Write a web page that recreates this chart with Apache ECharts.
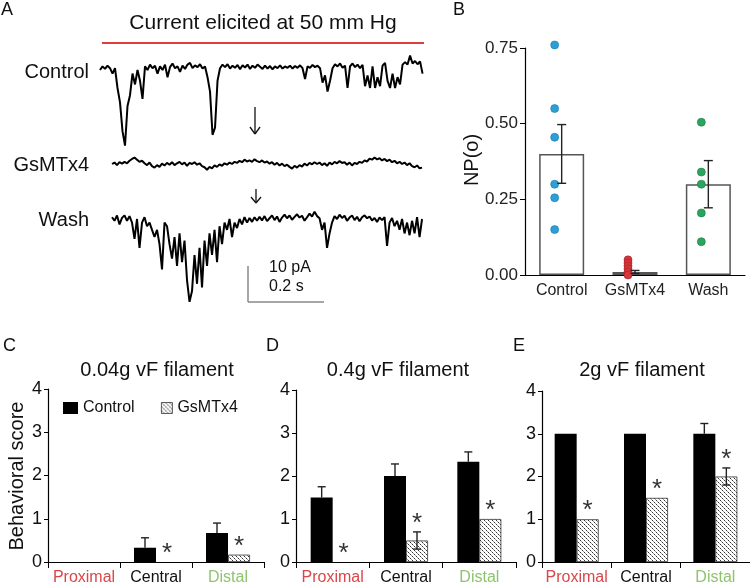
<!DOCTYPE html>
<html><head><meta charset="utf-8">
<script src="https://cdn.jsdelivr.net/npm/echarts@6/dist/echarts.min.js"></script>
<style>html,body{margin:0;padding:0;background:#fff}#c{width:750px;height:586px}</style>
</head><body><div id="c"></div>
<script>
const FONT = '"Liberation Sans", Arial, Helvetica, sans-serif';

// ---------- Panel A: current traces (pA relative to baseline) ----------
const SAMPLE_DT = 0.00658;          // s between samples
const controlStart = 0;             // s
const gsmtxStart = 0.0316;          // s
const washStart = 0.0316;           // s
const controlTrace = [0,1,0.3,1.2,0.5,-1,0.5,-5,-9,-17,
-21,-10,-7,-1,-4,0,-3,-8,1,0,
1.5,0.5,1.2,-1,1,0,1.5,-2,0.8,1.8,
0.5,1,-0.5,1.2,0.3,1.5,2,0.5,1.3,0.8,
1.6,0.4,1,-2,-6,-18,-16,-3,0.5,1.5,
0.8,1.6,0.4,1.2,0.6,1.4,0.2,1.3,0.7,1.5,
0.3,1.2,0.6,1.5,0.9,0.3,1.2,0.4,1.1,0.2,
1,0.5,1.3,0.4,1,0.6,1.2,0.4,1.1,0.6,
1.3,0.5,-2.5,1,0.6,1.4,0.8,1.2,0.5,-3.5,
-1.5,-6,-3,0.5,1.6,1,1.8,0.6,1.2,-5,
1,1.8,0.8,1.5,0.5,1.4,-4.5,-1.5,-5,1,
-5,-2,-4.5,1.2,2,-3,-5,-1,-5,-2,
-4,1.5,2.2,1.5,4,1.8,2.5,1.6,2.4,-1];
const gsmtxTrace = [0,0.4,-0.3,0.5,0.1,0.6,0.2,0.9,1.4,1.8,
1.2,0.6,0.9,0.2,-0.3,0.4,-0.6,-1.0,-0.3,-0.8,
0.1,-0.4,0.3,-0.2,0.5,-0.3,0.2,0.6,-0.1,0.4,
-0.5,0.3,0.0,0.5,-0.2,0.2,-0.6,-0.9,-1.6,-0.8,
-1.2,-0.4,-0.8,-0.1,-0.5,0.2,-0.2,0.4,0.0,0.6,
0.3,0.9,0.5,1.2,0.7,1.0,0.6,1.3,0.8,0.5,
1.0,0.4,0.7,0.1,0.5,-0.2,0.3,-0.4,0.1,-0.6,
-0.2,-0.8,-1.3,-0.5,-1.0,-0.3,-0.7,0.1,-0.4,0.3,
-0.1,0.5,0.0,0.4,-0.3,0.2,-0.5,0.4,-0.1,0.6,
0.2,0.8,0.3,0.5,-0.2,0.4,-0.4,0.3,0.0,0.6,
0.3,1.0,0.7,1.5,1.2,1.8,1.3,1.6,1.0,1.4,
0.8,1.2,0.5,0.9,0.2,0.6,0.0,0.4,-0.3,0.2,
-0.6,-0.9,-0.4,-1.2,-1.0];
const washTrace = [0.5,-0.5,1,-1.5,0.3,1,-0.5,0.8,-1,-5.5,
0,-8,-1,0.5,-2,-1,-3,-5,-3,-7,
-14,-1,-2,-7,-11,-5,-13,-4,-12,-6,
-17,-23,-20,-10,-18,-8,-19,-6,-13,-4,
-10,-3,-12,-2,-7,-1,-3,0,-5,-1,
-2.5,0,-1.5,0.5,-1,0.3,-0.8,0.5,-0.5,0.6,
-0.4,0.8,-0.6,0.2,1,-0.3,0.7,-0.8,0.4,1.2,
0.2,1,-0.2,0.6,1.3,0.4,0.9,-0.5,0.5,1.5,
0.7,2,0.8,0.2,-3,-1,-8,-4,-1,0.8,
0,1.2,0.3,0.9,-0.5,0.4,1,-0.3,0.6,-0.6,
0.5,1,0.2,0.7,-0.4,0.3,-0.8,0.4,-0.3,0.5,
-7.5,-1,0.3,-2,-0.5,-3,0,-4,-1,-4.5,
-0.5,-4,0.5,-5,0];

// ---------- Panel B ----------
const bCategories = ['Control', 'GsMTx4', 'Wash'];
const bMeans = [0.40, 0.01, 0.30];
const bSem = [0.097, 0.005, 0.078];
const bControlPts = [0.76, 0.55, 0.455, 0.30, 0.255, 0.15];
const bGsmtxPts = [0.05, 0.04, 0.03, 0.02, 0.01, 0.0];
const bWashPts = [0.505, 0.34, 0.30, 0.205, 0.11];
const bTickMax = 0.75, bTickStep = 0.25;

// ---------- Panels C, D, E ----------
const locations = ['Proximal', 'Central', 'Distal'];
const scoreMax = 4, scoreStep = 1;
const cTitle = '0.04g vF filament';
const cControl = [0, 0.33, 0.67];
const cControlErr = [null, 0.23, 0.23];
const cGsmtx = [0, 0, 0.17];
const cGsmtxErr = [null, null, null];
const cSig = [false, true, true];

const dTitle = '0.4g vF filament';
const dControl = [1.5, 2.0, 2.33];
const dControlErr = [0.25, 0.28, 0.23];
const dGsmtx = [0, 0.5, 1.0];
const dGsmtxErr = [null, 0.2, null];
const dSig = [true, true, true];

const eTitle = '2g vF filament';
const eControl = [3, 3, 3];
const eControlErr = [null, null, 0.24];
const eGsmtx = [1, 1.5, 2];
const eGsmtxErr = [null, null, 0.2];
const eSig = [true, true, true];

// ---------- helpers ----------
function makeHatch() {
  const cv = document.createElement('canvas');
  cv.width = 4; cv.height = 4;
  const ctx = cv.getContext('2d');
  ctx.fillStyle = '#fff'; ctx.fillRect(0, 0, 4, 4);
  for (let i = 0; i < 4; i++) {
    ctx.fillStyle = (i % 2 === 0) ? '#333' : '#999';
    ctx.fillRect(i, i, 1, 1);
  }
  return cv;
}
const hatch = { image: makeHatch(), repeat: 'repeat' };

function errRender(offset, twoSided, cap, color) {
  return function (params, api) {
    const c = api.value(0), m = api.value(1), e = api.value(2);
    const top = api.coord([c, m + e]);
    const base = api.coord([c, twoSided ? m - e : m]);
    const x = top[0] + offset;
    const st = { stroke: color, lineWidth: 1.4 };
    const ch = [
      { type: 'line', shape: { x1: x, y1: top[1], x2: x, y2: base[1] }, style: st },
      { type: 'line', shape: { x1: x - cap / 2, y1: top[1], x2: x + cap / 2, y2: top[1] }, style: st }
    ];
    if (twoSided) ch.push({ type: 'line', shape: { x1: x - cap / 2, y1: base[1], x2: x + cap / 2, y2: base[1] }, style: st });
    return { type: 'group', children: ch };
  };
}
function starRender(offset) {
  return function (params, api) {
    const p = api.coord([api.value(0), api.value(1)]);
    return { type: 'text', x: p[0] + offset, y: p[1] - 8,
      style: { text: '*', fill: '#333', font: '26px ' + FONT, align: 'center', verticalAlign: 'middle',
               textAlign: 'center', textVerticalAlign: 'middle' } };
  };
}

const BAR_W = 22;
const locData = [
  { value: 'Proximal', textStyle: { color: '#d9474b' } },
  'Central',
  { value: 'Distal', textStyle: { color: '#8fc46e' } }
];

const grids = [
  { left: 100, top: 55.6, width: 323, height: 97.2 },
  { left: 100, top: 153.2, width: 323, height: 21.6 },
  { left: 100, top: 204.6, width: 323, height: 100.8 },
  { left: 525, top: 48, width: 220, height: 227 },
  { left: 48, top: 389, width: 216, height: 175 },
  { left: 296, top: 390, width: 220, height: 174 },
  { left: 542, top: 391, width: 219, height: 172 }
];

const axisLineStyle = { lineStyle: { color: '#000', width: 1.2 } };
const xAxes = [], yAxes = [];
const traceRanges = [[-23, 4], [-3, 3], [-24, 4]];
for (let i = 0; i < 3; i++) {
  xAxes.push({ type: 'value', gridIndex: i, min: 0, max: 0.85, show: false });
  yAxes.push({ type: 'value', gridIndex: i, min: traceRanges[i][0], max: traceRanges[i][1], show: false });
}
xAxes.push({ type: 'category', gridIndex: 3, data: bCategories, axisTick: { show: false },
  axisLine: axisLineStyle, axisLabel: { interval: 0, fontSize: 16, color: '#222', margin: 8, fontFamily: FONT } });
yAxes.push({ type: 'value', gridIndex: 3, min: 0, max: bTickMax, interval: bTickStep, splitLine: { show: false },
  axisLine: { show: true, lineStyle: { color: '#000', width: 1.2 } },
  axisTick: { show: true, length: 5, lineStyle: { color: '#000' } },
  axisLabel: { fontSize: 17, color: '#222', margin: 7, fontFamily: FONT, formatter: v => v.toFixed(2) } });
for (let g = 4; g < 7; g++) {
  xAxes.push({ type: 'category', gridIndex: g, data: locData,
    axisTick: { show: true, length: 6, lineStyle: { color: '#000' } },
    axisLine: axisLineStyle, axisLabel: { interval: 0, fontSize: 16, color: '#111', margin: 8, fontFamily: FONT } });
  yAxes.push({ type: 'value', gridIndex: g, min: 0, max: scoreMax, interval: scoreStep, splitLine: { show: false },
    axisLine: { show: true, lineStyle: { color: '#000', width: 1.2 } },
    axisTick: { show: true, length: 4, lineStyle: { color: '#000' } },
    axisLabel: { fontSize: 18, color: '#111', margin: 6, fontFamily: FONT } });
}

const series = [];
[[controlTrace, controlStart], [gsmtxTrace, gsmtxStart], [washTrace, washStart]].forEach(([tr, t0], i) => {
  series.push({ type: 'line', xAxisIndex: i, yAxisIndex: i, showSymbol: false, silent: true,
    data: tr.map((v, k) => [t0 + k * SAMPLE_DT, v]),
    lineStyle: { color: '#000', width: 2 } });
});

// Panel B
series.push({ type: 'bar', xAxisIndex: 3, yAxisIndex: 3, data: bMeans, barWidth: 45,
  itemStyle: { color: '#fff', borderColor: '#555', borderWidth: 1.5 }, z: 1 });
[[bControlPts, 0, '#2b9fd7', '#1d78a6'], [bGsmtxPts, 1, '#d9363c', '#a32025'], [bWashPts, 2, '#2aa560', '#1b7a45']]
  .forEach(([pts, ci, col, bc]) => {
    series.push({ type: 'scatter', xAxisIndex: 3, yAxisIndex: 3, clip: false, symbolSize: 8, symbolOffset: [-7, 0],
      data: pts.map(v => [ci, v]), itemStyle: { color: col, borderColor: bc, borderWidth: 0.6, opacity: 1 }, z: 3 });
  });
series.push({ type: 'custom', xAxisIndex: 3, yAxisIndex: 3, renderItem: errRender(0, true, 9, '#222'),
  data: bMeans.map((m, i) => [i, m, bSem[i]]), z: 4 });

// Panels C, D, E
const panels = [
  [cControl, cControlErr, cGsmtx, cGsmtxErr, cSig],
  [dControl, dControlErr, dGsmtx, dGsmtxErr, dSig],
  [eControl, eControlErr, eGsmtx, eGsmtxErr, eSig]
];
panels.forEach(([ctl, ctlErr, gsm, gsmErr, sig], p) => {
  const ax = 4 + p;
  series.push({ name: 'Control', type: 'bar', xAxisIndex: ax, yAxisIndex: ax, data: ctl, barWidth: BAR_W, barGap: '0%',
    itemStyle: { color: '#000' } });
  series.push({ name: 'GsMTx4', type: 'bar', xAxisIndex: ax, yAxisIndex: ax, barWidth: BAR_W, barGap: '0%',
    data: gsm.map(v => v === 0 ? { value: v, itemStyle: { borderWidth: 0 } } : v),
    itemStyle: { color: hatch, borderColor: '#333', borderWidth: 0.8 } });
  series.push({ type: 'custom', xAxisIndex: ax, yAxisIndex: ax, renderItem: errRender(-BAR_W / 2, false, 8, '#222'),
    data: ctl.map((v, i) => [i, v, ctlErr[i]]).filter(d => d[2] != null), z: 4 });
  series.push({ type: 'custom', xAxisIndex: ax, yAxisIndex: ax, renderItem: errRender(BAR_W / 2, true, 8, '#222'),
    data: gsm.map((v, i) => [i, v, gsmErr[i]]).filter(d => d[2] != null), z: 4 });
  series.push({ type: 'custom', xAxisIndex: ax, yAxisIndex: ax, renderItem: starRender(BAR_W / 2),
    data: gsm.map((v, i) => [i, v + (gsmErr[i] || 0), sig[i] ? 1 : 0]).filter(d => d[2] === 1), z: 5 });
});

function txt(text, x, y, size, opts) {
  opts = opts || {};
  return { type: 'text', x: x, y: y, rotation: opts.rot || 0, silent: true,
    style: { text: text, fill: opts.color || '#111', font: size + 'px ' + FONT,
      align: opts.align || 'left', verticalAlign: 'middle',
      textAlign: opts.align || 'left', textVerticalAlign: 'middle' } };
}
function ln(x1, y1, x2, y2, color, w) {
  return { type: 'line', silent: true, shape: { x1, y1, x2, y2 }, style: { stroke: color, lineWidth: w } };
}

const graphics = [
  txt('A', 1, 10, 18), txt('B', 453, 10, 18), txt('C', 3, 346, 18), txt('D', 266, 346, 18), txt('E', 513, 346, 18),
  txt('Current elicited at 50 mm Hg', 263, 23, 21, { align: 'center' }),
  ln(102, 43, 424, 43, '#e03c3c', 2),
  txt('Control', 89, 72, 20, { align: 'right' }),
  txt('GsMTx4', 89, 165, 20, { align: 'right' }),
  txt('Wash', 89, 220, 20, { align: 'right' }),
  ln(255, 107, 255, 134, '#111', 1.3), ln(250, 127, 255, 134, '#111', 1.3), ln(260, 127, 255, 134, '#111', 1.3),
  ln(256, 189, 256, 203, '#111', 1.3), ln(251, 197, 256, 203, '#111', 1.3), ln(261, 197, 256, 203, '#111', 1.3),
  ln(248, 266, 248, 302, '#888', 1.5), ln(248, 302, 324, 302, '#888', 1.5),
  txt('10 pA', 269, 268, 16), txt('0.2 s', 269, 287, 16),
  txt('NP(o)', 472, 160, 20, { align: 'center', rot: Math.PI / 2 }),
  txt('Behavioral score', 17, 476, 20, { align: 'center', rot: Math.PI / 2 }),
  txt(cTitle, 157, 370, 20, { align: 'center' }),
  txt(dTitle, 398, 370, 20, { align: 'center' }),
  txt(eTitle, 642, 370, 20, { align: 'center' })
];

const chart = echarts.init(document.getElementById('c'), null, { renderer: 'canvas' });
chart.setOption({
  animation: false,
  backgroundColor: '#fff',
  textStyle: { fontFamily: FONT },
  grid: grids,
  xAxis: xAxes,
  yAxis: yAxes,
  legend: [
    { data: ['Control'], left: 63, top: 400, padding: 0, icon: 'rect', itemWidth: 15, itemHeight: 12, itemGap: 0,
      textStyle: { fontSize: 16, color: '#111', fontFamily: FONT }, selectedMode: false },
    { data: ['GsMTx4'], left: 161, top: 400, padding: 0, icon: 'rect', itemWidth: 11, itemHeight: 11, itemGap: 0,
      textStyle: { fontSize: 16, color: '#111', fontFamily: FONT }, selectedMode: false,
      itemStyle: { borderColor: '#333', borderWidth: 0.8 } }
  ],
  series: series,
  graphic: graphics
});
</script></body></html>
